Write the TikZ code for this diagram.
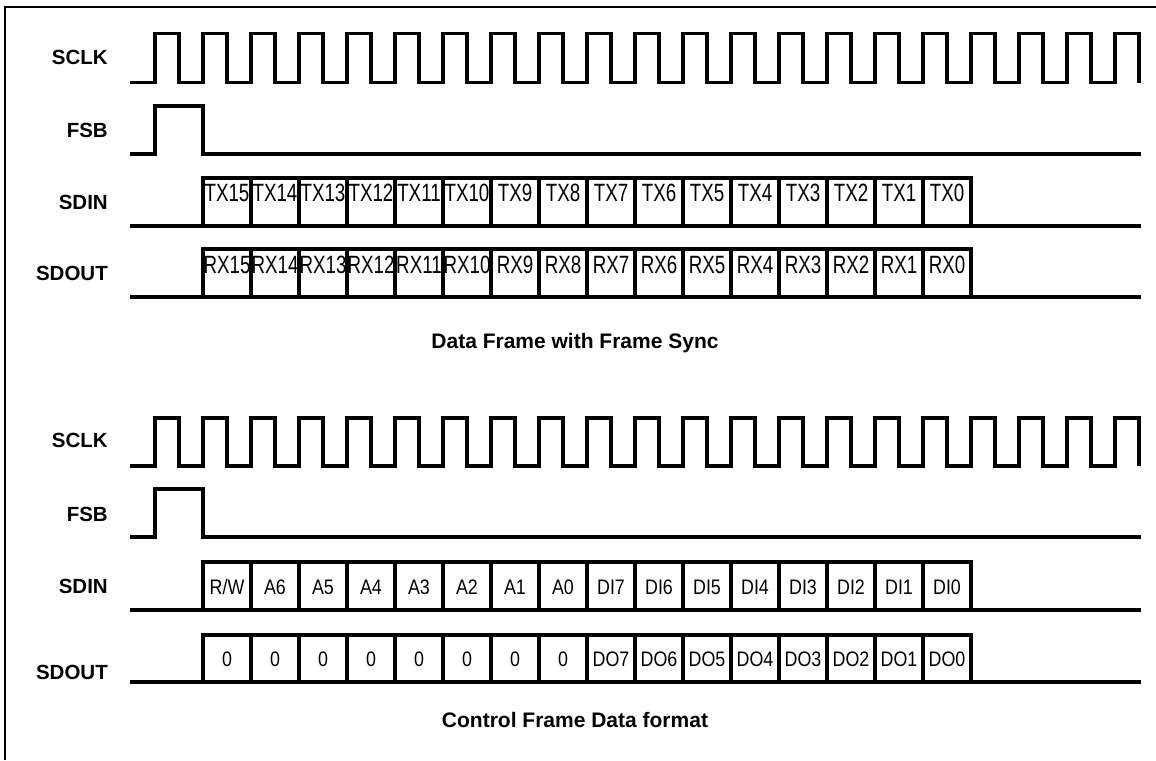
\documentclass[tikz,border=0pt]{standalone}
\usepackage{fontspec}
\setmainfont{Liberation Sans}
\newfontfamily\condA[FakeStretch=0.75]{Liberation Sans}
\newfontfamily\condB[FakeStretch=0.85]{Liberation Sans}
\begin{document}
\begin{tikzpicture}[x=1pt,y=-1pt,
  wave/.style={line width=3.2pt, line join=miter},
  bitbox/.style={line width=3.2pt},
  sig/.style={font=\fontsize{20.5}{24}\selectfont\bfseries, anchor=base east, inner sep=0pt},
  ttl/.style={font=\fontsize{21}{25}\selectfont\bfseries, anchor=base, inner sep=0pt},
  bitA/.style={font=\condA\fontsize{25}{29}\selectfont, anchor=base, inner sep=0pt},
  bitB/.style={font=\condB\fontsize{21}{25}\selectfont, anchor=base, inner sep=0pt}]
\useasboundingbox (0,0) rectangle (1156,760);
% frame
\draw[line width=1.5pt] (5,760) -- (5,7) -- (1156,7);

% ================= top: Data Frame =================
\node[sig] (l1) at (108,65) {SCLK};
\node[sig] (l2) at (108,137) {FSB};
\node[sig] (l3) at (108,209) {SDIN};
\node[sig] (l4) at (108,280) {SDOUT};

\draw[wave] (130,82.5) \foreach \k in {0,...,20}{ -- ({155+48*\k},82.5) -- ({155+48*\k},33.5) -- ({179+48*\k},33.5) -- ({179+48*\k},82.5)};
\draw[wave] (130,154) -- (155,154) -- (155,106) -- (203,106) -- (203,154) -- (1141,154);

\draw[wave] (130,226) -- (1141,226);
\draw[wave] (130,297) -- (1141,297);
\foreach \i in {0,...,15}{
  \pgfmathtruncatemacro\n{15-\i}
  \draw[bitbox] ({203+48*\i},178) rectangle ({251+48*\i},226);
  \draw[bitbox] ({203+48*\i},249) rectangle ({251+48*\i},297);
  \node[bitA] (tx\n) at ({227+48*\i},201) {TX\n};
  \node[bitA] (rx\n) at ({227+48*\i},273) {RX\n};
}
\node[ttl] (t1) at (575,348) {Data Frame with Frame Sync};

% ================= bottom: Control Frame =================
\node[sig] (m1) at (108,447) {SCLK};
\node[sig] (m2) at (108,521) {FSB};
\node[sig] (m3) at (108,593) {SDIN};
\node[sig] (m4) at (108,679) {SDOUT};

\draw[wave] (130,466) \foreach \k in {0,...,20}{ -- ({155+48*\k},466) -- ({155+48*\k},418) -- ({179+48*\k},418) -- ({179+48*\k},466)};
\draw[wave] (130,537) -- (155,537) -- (155,489) -- (203,489) -- (203,537) -- (1141,537);

\draw[wave] (130,610) -- (1141,610);
\draw[wave] (130,682) -- (1141,682);
\foreach \t [count=\i from 0] in {{R/W},A6,A5,A4,A3,A2,A1,A0,DI7,DI6,DI5,DI4,DI3,DI2,DI1,DI0}{
  \draw[bitbox] ({203+48*\i},562) rectangle ({251+48*\i},610);
  \node[bitB] (di\i) at ({227+48*\i},594) {\t};
}
\foreach \t [count=\i from 0] in {0,0,0,0,0,0,0,0,DO7,DO6,DO5,DO4,DO3,DO2,DO1,DO0}{
  \draw[bitbox] ({203+48*\i},635) rectangle ({251+48*\i},682);
  \node[bitB] (do\i) at ({227+48*\i},666) {\t};
}
\node[ttl] (t2) at (575,727) {Control Frame Data format};
\end{tikzpicture}
\end{document}
